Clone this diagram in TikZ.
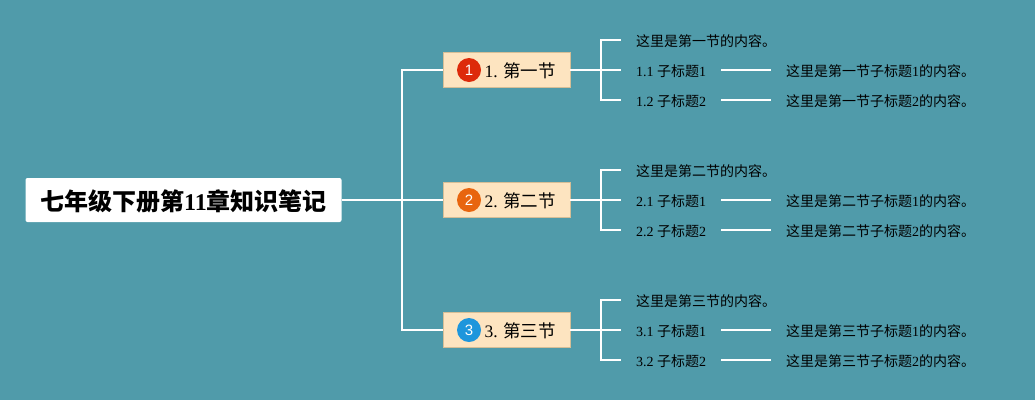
\documentclass[tikz,border=0pt]{standalone}
\usepackage{fontspec}
\setmainfont{Liberation Serif}
\newfontfamily\cjk{Noto Sans CJK SC}
\newfontfamily\badgefont{Liberation Sans}
\definecolor{bgteal}{RGB}{80,155,170}
\definecolor{secfill}{RGB}{253,228,192}
\definecolor{secline}{RGB}{214,190,150}
\definecolor{badgered}{RGB}{221,42,10}
\definecolor{badgeorange}{RGB}{232,101,15}
\definecolor{badgeblue}{RGB}{30,150,220}
\tikzset{
  rootbox/.style={rectangle,rounded corners=2pt,fill=white,minimum width=316pt,minimum height=44pt,inner sep=0pt,text height=23pt,text depth=2pt,font=\fontsize{24}{28}\selectfont\bfseries},
  secbox/.style={rectangle,draw=secline,fill=secfill,line width=0.8pt,minimum width=127pt,minimum height=35pt,inner sep=0pt,text height=16pt,text depth=2pt,font=\fontsize{17.5}{20}\selectfont},
  badge/.style={circle,minimum size=24pt,inner sep=0pt,text=white,font=\fontsize{15}{18}\selectfont\badgefont},
  topic/.style={anchor=west,inner xsep=15pt,inner ysep=0pt,text height=13pt,text depth=1pt,font=\fontsize{14}{16}\selectfont},
  link/.style={draw=white,line width=2pt},
}
\begin{document}
\begin{tikzpicture}[x=1pt,y=-1pt]
  \useasboundingbox (0,0) rectangle (1035,400);
  \fill[bgteal] (0,0) rectangle (1035,400);
  \node[rootbox] (root) at (183.5,200) {{\cjk 七年级下册第}11{\cjk 章知识笔记}};
  \coordinate (trunk) at (402,200);

  \node[secbox] (sec1) at (506.5,70) {\hspace*{27.5pt}1. {\cjk 第一节}};
  \node[secbox] (sec2) at (506.5,200) {\hspace*{27.5pt}2. {\cjk 第二节}};
  \node[secbox] (sec3) at (506.5,330) {\hspace*{27.5pt}3. {\cjk 第三节}};
  \node[badge,fill=badgered] (badge1) at (469,70) {1};
  \node[badge,fill=badgeorange] (badge2) at (469,200) {2};
  \node[badge,fill=badgeblue] (badge3) at (469,330) {3};
  \coordinate (fork1) at (601,70);
  \coordinate (fork2) at (601,200);
  \coordinate (fork3) at (601,330);

  % first section
  \node[topic] (intro1) at (621,40) {{\cjk 这里是第一节的内容。}};
  \node[topic] (sub11) at (621,70) {1.1 {\cjk 子标题}1};
  \node[topic] (sub12) at (621,100) {1.2 {\cjk 子标题}2};
  \node[topic] (note11) at (771,70) {{\cjk 这里是第一节子标题}1{\cjk 的内容。}};
  \node[topic] (note12) at (771,100) {{\cjk 这里是第一节子标题}2{\cjk 的内容。}};

  % second section
  \node[topic] (intro2) at (621,170) {{\cjk 这里是第二节的内容。}};
  \node[topic] (sub21) at (621,200) {2.1 {\cjk 子标题}1};
  \node[topic] (sub22) at (621,230) {2.2 {\cjk 子标题}2};
  \node[topic] (note21) at (771,200) {{\cjk 这里是第二节子标题}1{\cjk 的内容。}};
  \node[topic] (note22) at (771,230) {{\cjk 这里是第二节子标题}2{\cjk 的内容。}};

  % third section
  \node[topic] (intro3) at (621,300) {{\cjk 这里是第三节的内容。}};
  \node[topic] (sub31) at (621,330) {3.1 {\cjk 子标题}1};
  \node[topic] (sub32) at (621,360) {3.2 {\cjk 子标题}2};
  \node[topic] (note31) at (771,330) {{\cjk 这里是第三节子标题}1{\cjk 的内容。}};
  \node[topic] (note32) at (771,360) {{\cjk 这里是第三节子标题}2{\cjk 的内容。}};

  \draw[link] (root.east) -- (sec2.west);
  \draw[link] (trunk) |- (sec1.west);
  \draw[link] (trunk) |- (sec3.west);

  \draw[link] (sec1.east) -- (sub11.west);
  \draw[link] (fork1) |- (intro1.west);
  \draw[link] (fork1) |- (sub12.west);
  \draw[link] (sub11.east) -- (note11.west);
  \draw[link] (sub12.east) -- (note12.west);

  \draw[link] (sec2.east) -- (sub21.west);
  \draw[link] (fork2) |- (intro2.west);
  \draw[link] (fork2) |- (sub22.west);
  \draw[link] (sub21.east) -- (note21.west);
  \draw[link] (sub22.east) -- (note22.west);

  \draw[link] (sec3.east) -- (sub31.west);
  \draw[link] (fork3) |- (intro3.west);
  \draw[link] (fork3) |- (sub32.west);
  \draw[link] (sub31.east) -- (note31.west);
  \draw[link] (sub32.east) -- (note32.west);
\end{tikzpicture}
\end{document}
